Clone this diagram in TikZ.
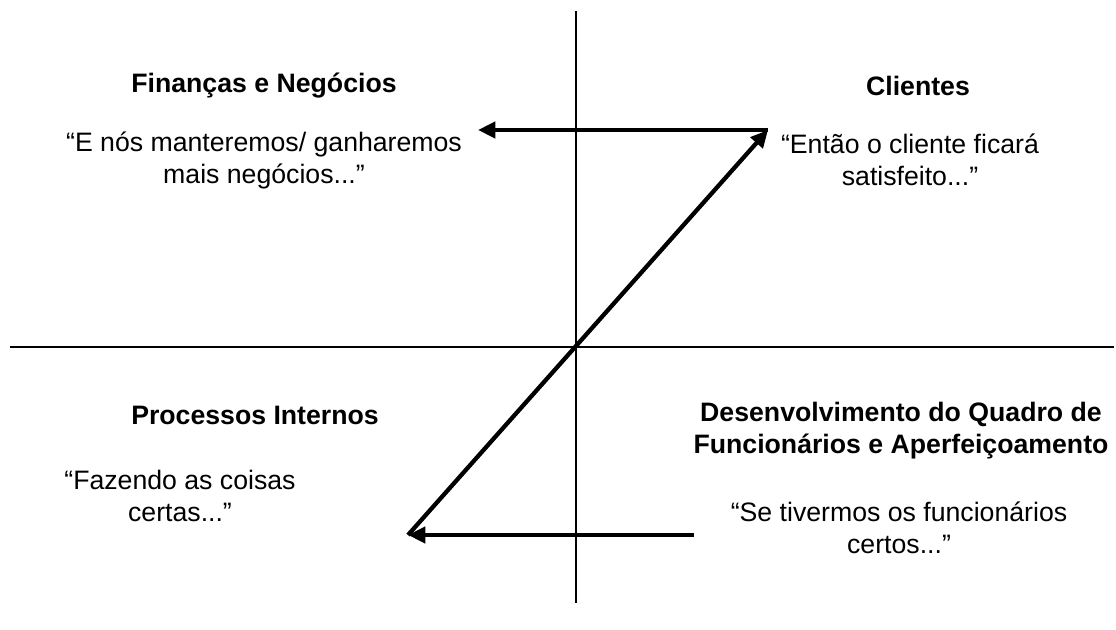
\documentclass[tikz,border=0pt]{standalone}
\usepackage{fontspec}
\setmainfont{Liberation Sans}
\usetikzlibrary{arrows.meta}

\tikzset{
  axisline/.style={line width=2.2pt},
  flowarrow/.style={line width=3.2pt,-{Triangle[length=13pt,width=12pt]}},
  heading/.style={font=\fontsize{20}{24}\selectfont\bfseries,align=center},
  quote/.style={font=\fontsize{20}{24}\selectfont,align=center}
}

\begin{document}
\begin{tikzpicture}[x=0.75pt,y=0.75pt,yscale=-1,xscale=1]
%set diagram area 1116 x 630
\useasboundingbox (0,0) rectangle (1116,630);

% Corner points
\coordinate (top) at (576,11);
\coordinate (bottom) at (576,603);
\coordinate (left) at (10,347);
\coordinate (right) at (1114,347);
\coordinate (cli) at (768,130);
\coordinate (fin) at (478,130);
\coordinate (proc) at (408,535);
\coordinate (pess) at (694,535);

%Straight Lines
\draw [axisline] (top) -- (bottom) ;
%Straight Lines
\draw [axisline] (left) -- (right) ;
%Straight Lines
\draw [flowarrow] (pess) -- (proc) ;
%Straight Lines
\draw [flowarrow] (proc) -- (cli) ;
%Straight Lines
\draw [flowarrow] (cli) -- (fin) ;

% Text Node
\node [heading] (finT) at (264,86) {Finanças e Negócios};
% Text Node
\node [quote] (finQ) at (264,160) {“E nós manteremos/ ganharemos\\mais negócios...”};
% Text Node
\node [heading] (cliT) at (918,86) {Clientes};
% Text Node
\node [quote] (cliQ) at (910,160) {“Então o cliente ficará\\satisfeito...”};
% Text Node
\node [heading] (procT) at (255,415) {Processos Internos};
% Text Node
\node [quote] (procQ) at (180,496) {“Fazendo as coisas\\certas...”};
% Text Node
\node [heading] (pessT) at (901,431) {Desenvolvimento do Quadro de\\Funcionários e Aperfeiçoamento};
% Text Node
\node [quote] (pessQ) at (899,528) {“Se tivermos os funcionários\\certos...”};

\end{tikzpicture}
\end{document}
